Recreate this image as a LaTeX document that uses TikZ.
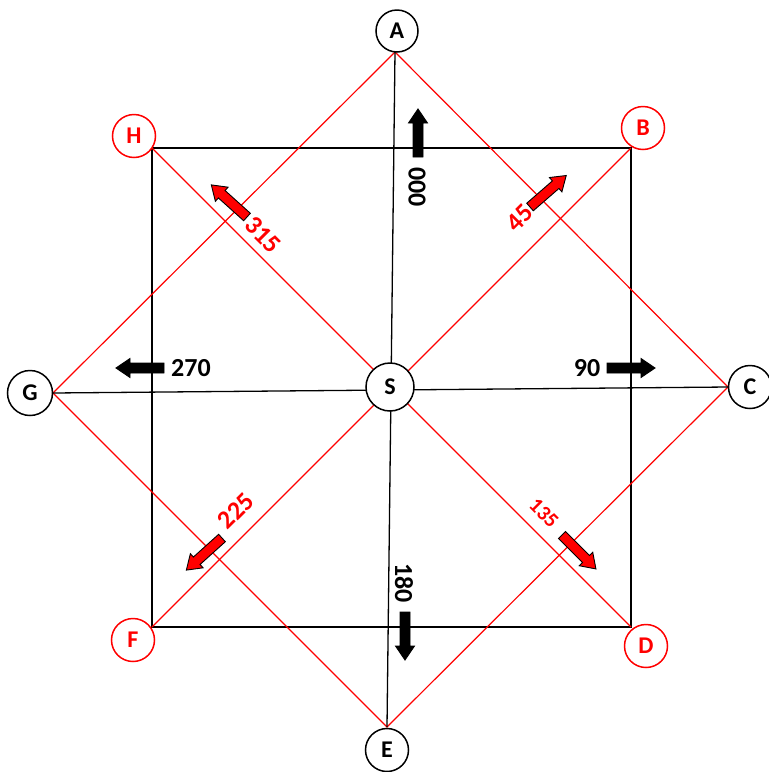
\documentclass[tikz,border=0pt]{standalone}
\usepackage{fontspec}
\setmainfont{Carlito}
\begin{document}
\begin{tikzpicture}[x=1pt,y=-1pt,
  letter/.style={circle,draw,line width=1.5,fill=white,minimum size=#1,inner sep=0pt,font=\fontsize{24}{28}\selectfont\bfseries},
  redletter/.style={letter=#1,draw=red,text=red},
  num/.style={font=\fontsize{26}{30}\selectfont\bfseries,inner sep=0pt},
  rednum/.style={num,text=red},
  thinblack/.style={line width=1.3},
  thinred/.style={draw=red,line width=1.2},
  sq/.style={line width=2.6}]
\path[use as bounding box] (0,0) rectangle (769,772);
% square corners
\coordinate (cH) at (152,148);
\coordinate (cB) at (631,148);
\coordinate (cD) at (631,627);
\coordinate (cF) at (152,627);
% diamond vertices
\coordinate (vA) at (395,52);
\coordinate (vC) at (728,387);
\coordinate (vE) at (387,727);
\coordinate (vG) at (53,393);
% square
\draw[sq] (cH) -- (cB) -- (cD) -- (cF) -- cycle;
% red diamond and diagonals
\draw[thinred] (vA) -- (vC) -- (vE) -- (vG) -- cycle;
\draw[thinred] (cH) -- (cD);
\draw[thinred] (cB) -- (cF);
% black axes
\draw[thinblack] (vA) -- (vE);
\draw[thinblack] (vG) -- (vC);
% nodes
\node[letter=48] (S) at (390,387) {S};
\node[letter=42] (A) at (397,31) {A};
\node[letter=43] (C) at (750,387) {C};
\node[letter=43] (E) at (387,750) {E};
\node[letter=45] (G) at (30,393) {G};
\node[redletter=43] (B) at (643,128) {B};
\node[redletter=43] (D) at (646,646) {D};
\node[redletter=43] (F) at (133,640) {F};
\node[redletter=43] (H) at (134,136) {H};
% block arrows
\newcommand{\blockarr}[3]{%
  \path[draw=black,fill=#3,line width=0.9,line join=miter,shift={(#1)},rotate=#2]
    (0,5) -- (34,5) -- (34,9.5) -- (48,0) -- (34,-9.5) -- (34,-5) -- (0,-5) -- cycle;}
\coordinate (t000) at (418,157);
\coordinate (t270) at (164,368);
\coordinate (t90) at (607,368);
\coordinate (t180) at (405,612);
\coordinate (t45) at (530,207);
\coordinate (t315) at (247,217);
\coordinate (t225) at (222,538);
\coordinate (t135) at (562,535);
\blockarr{t000}{90}{black}
\blockarr{t270}{180}{black}
\blockarr{t90}{0}{black}
\blockarr{t180}{270}{black}
\blockarr{t45}{41}{red}
\blockarr{t315}{138}{red}
\blockarr{t225}{222}{red}
\blockarr{t135}{315}{red}
% labels
\node[num,rotate=-90] (n000) at (417,187) {000};
\node[num] (n270) at (191,368) {270};
\node[num] (n90) at (587,368) {90};
\node[num,rotate=-90] (n180) at (404,583) {180};
\node[rednum,rotate=45] (n45) at (520,218) {45};
\node[rednum,rotate=-45] (n315) at (263,235) {315};
\node[rednum,rotate=45] (n225) at (236,511) {225};
\node[rednum,rotate=-45,font=\fontsize{21}{25}\selectfont\bfseries] (n135) at (544,513) {135};
\end{tikzpicture}
\end{document}
